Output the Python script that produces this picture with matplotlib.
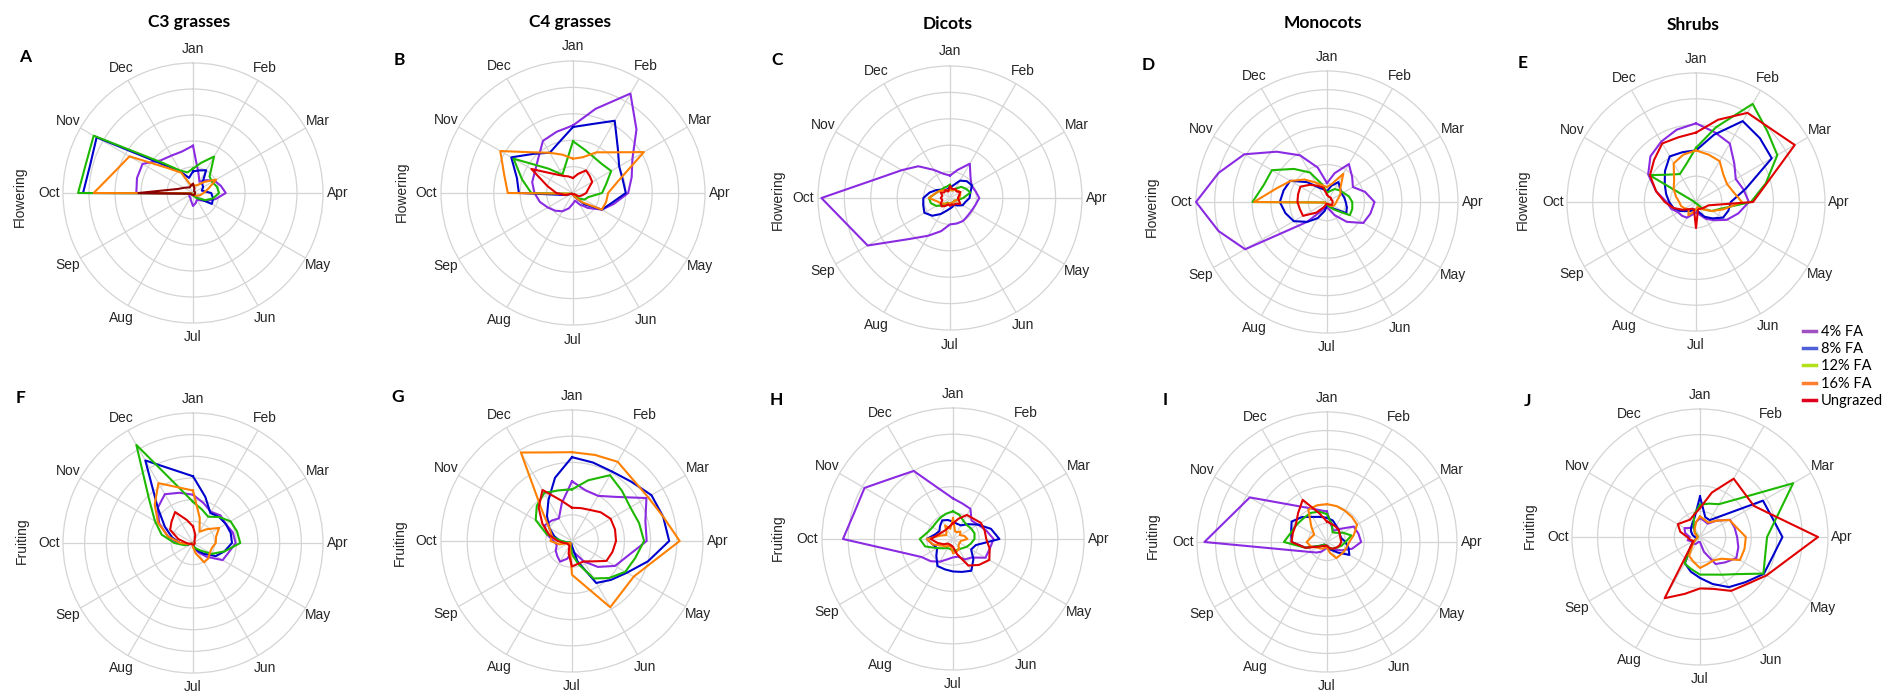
import numpy as np
import matplotlib
matplotlib.use("Agg")
import matplotlib.pyplot as plt
from matplotlib.lines import Line2D

# ---------------- data (24 semi-monthly points, Jan .. mid-Dec) ----------------
months = ['Jan', 'Feb', 'Mar', 'Apr', 'May', 'Jun', 'Jul', 'Aug', 'Sep', 'Oct', 'Nov', 'Dec']
treatments = ['4% FA', '8% FA', '12% FA', '16% FA', 'Ungrazed']
groups = ['C3 grasses', 'C4 grasses', 'Dicots', 'Monocots', 'Shrubs']
phases = ['Flowering', 'Fruiting']
ring_counts = [5, 5, 5, 7, 5, 6, 5, 5, 7, 5]

# A: C3 grasses, flowering
A_4 = [1.82, 0.8, 0.5, 0.7, 0.95, 1.1, 1.26, 0.9, 0.6, 0.4, 0.3, 0.4, 0.5, 0.3, 0.2, 0.2, 0.15, 0.1, 2.18, 2.23, 2.24, 1.77, 1.66, 1.65]
A_8 = [0.83, 0.9, 1.01, 0.5, 0.45, 0.35, 0.7, 0.8, 0.84, 0.3, 0.15, 0.05, 0.05, 0.05, 0.05, 0.05, 0.05, 0.05, 4.23, 4.1, 4.28, 1.5, 0.95, 0.6]
A_12 = [0.94, 1.2, 1.62, 0.9, 0.85, 0.95, 1.0, 0.8, 0.55, 0.3, 0.2, 0.1, 0.1, 0.05, 0.05, 0.05, 0.05, 0.05, 4.42, 4.27, 4.41, 1.63, 1.0, 0.82]
A_16 = [0.3, 0.3, 0.35, 0.6, 1.03, 0.6, 0.4, 0.3, 0.2, 0.15, 0.05, 0.05, 0.05, 0.05, 0.05, 0.05, 0.05, 0.05, 3.82, 3.13, 2.82, 1.35, 0.9, 0.3]
A_ug = [0.35, 0.2, 0.08, 0.08, 0.08, 0.08, 0.08, 0.08, 0.08, 0.08, 0.08, 0.08, 0.08, 0.08, 0.08, 0.08, 0.08, 0.1, 2.1, 0.6, 0.4, 0.3, 0.25, 0.3]
# B: C4 grasses, flowering
B_4 = [2.56, 3.3, 4.35, 3.4, 2.6, 2.3, 2.09, 1.6, 1.26, 0.8, 0.5, 0.3, 0.4, 0.6, 0.8, 0.95, 1.1, 1.3, 1.46, 1.6, 1.66, 1.86, 2.28, 2.4]
B_8 = [2.5, 2.7, 3.16, 2.4, 2.02, 1.95, 2.0, 1.5, 1.26, 0.6, 0.2, 0.1, 0.05, 0.05, 0.05, 0.05, 0.05, 0.3, 2.05, 2.2, 2.7, 2.1, 1.76, 2.0]
B_12 = [1.96, 1.7, 1.57, 1.55, 1.67, 1.3, 1.1, 0.6, 0.5, 0.3, 0.05, 0.05, 0.05, 0.05, 0.05, 0.05, 0.05, 0.1, 1.58, 2.0, 2.6, 1.3, 0.8, 1.1]
B_16 = [1.3, 1.4, 1.78, 2.18, 3.1, 1.78, 1.33, 1.3, 1.26, 0.5, 0.2, 0.1, 0.05, 0.05, 0.05, 0.05, 0.05, 0.1, 2.47, 2.7, 3.18, 2.18, 1.76, 1.5]
B_ug = [0.57, 0.75, 0.99, 0.9, 0.84, 0.6, 0.5, 0.35, 0.25, 0.05, 0.05, 0.05, 0.05, 0.05, 0.05, 0.05, 0.05, 0.3, 0.63, 1.0, 1.82, 1.02, 0.75, 0.65]
# C: Dicots, flowering
C_4 = [0.85, 1.1, 1.5, 1.1, 0.94, 1.0, 1.11, 1.0, 0.95, 0.95, 1.0, 1.0, 1.0, 1.3, 1.65, 2.2, 3.6, 4.0, 4.87, 2.84, 2.11, 1.7, 1.23, 0.95]
C_8 = [0.4, 0.5, 0.76, 0.9, 0.96, 0.8, 0.74, 0.6, 0.55, 0.4, 0.3, 0.35, 0.4, 0.5, 0.7, 0.95, 1.12, 1.05, 1.01, 0.8, 0.6, 0.45, 0.35, 0.35]
C_12 = [0.5, 0.3, 0.4, 0.6, 0.7, 0.8, 0.5, 0.3, 0.2, 0.2, 0.2, 0.2, 0.2, 0.2, 0.2, 0.4, 0.6, 0.75, 0.8, 0.6, 0.5, 0.45, 0.45, 0.45]
C_16 = [0.3, 0.3, 0.35, 0.4, 0.45, 0.4, 0.35, 0.3, 0.2, 0.2, 0.2, 0.2, 0.2, 0.2, 0.25, 0.3, 0.4, 0.5, 0.8, 0.6, 0.5, 0.4, 0.35, 0.3]
C_ug = [0.45, 0.35, 0.4, 0.35, 0.45, 0.35, 0.3, 0.35, 0.45, 0.3, 0.3, 0.25, 0.3, 0.25, 0.35, 0.45, 0.4, 0.3, 0.35, 0.3, 0.4, 0.3, 0.35, 0.25]
# D: Monocots, flowering
D_4 = [1.01, 1.6, 2.34, 1.9, 1.6, 2.1, 2.54, 2.4, 2.24, 1.5, 0.81, 0.4, 0.3, 0.3, 0.5, 1.5, 5.05, 6.0, 7.0, 6.0, 5.1, 3.8, 2.88, 1.9]
D_8 = [0.57, 0.9, 1.23, 1.0, 0.9, 0.95, 1.0, 1.1, 1.19, 0.5, 0.3, 0.2, 0.2, 0.5, 1.0, 1.5, 2.05, 2.3, 2.52, 2.4, 2.27, 1.5, 0.9, 0.7]
D_12 = [0.5, 0.6, 0.8, 0.9, 1.0, 1.2, 1.35, 1.4, 1.41, 0.6, 0.3, 0.2, 0.1, 0.1, 0.1, 0.1, 0.1, 0.1, 3.98, 3.5, 3.4, 2.5, 1.82, 0.96]
D_16 = [0.8, 1.0, 1.74, 1.0, 0.83, 0.6, 0.5, 0.45, 0.4, 0.3, 0.1, 0.1, 0.1, 0.1, 0.1, 0.1, 0.1, 0.1, 3.9, 2.8, 2.25, 1.7, 1.2, 0.92]
D_ug = [0.4, 0.3, 0.3, 0.3, 0.25, 0.3, 0.3, 0.3, 0.3, 0.2, 0.15, 0.1, 0.1, 0.1, 0.3, 0.8, 1.48, 1.5, 1.58, 1.6, 1.64, 1.3, 1.0, 0.8]
# E: Shrubs, flowering
E_4 = [3.05, 2.8, 2.62, 2.1, 1.78, 1.9, 2.05, 1.7, 1.38, 1.0, 0.75, 0.5, 0.4, 0.5, 0.7, 0.76, 0.8, 1.0, 1.14, 1.6, 2.14, 2.5, 2.7, 2.9]
E_8 = [2.0, 2.7, 3.62, 3.5, 3.39, 2.0, 1.35, 1.3, 1.21, 0.9, 0.66, 0.4, 0.3, 0.3, 0.4, 0.5, 0.7, 0.9, 1.04, 1.2, 1.4, 1.7, 2.04, 2.0]
E_12 = [2.1, 3.0, 4.39, 3.9, 3.64, 2.8, 2.13, 1.0, 0.7, 0.4, 0.1, 0.05, 0.05, 0.05, 0.05, 0.05, 0.05, 0.05, 0.05, 0.1, 2.08, 1.5, 1.25, 1.5]
E_16 = [2.0, 1.9, 1.83, 1.5, 1.39, 1.5, 1.78, 1.1, 0.7, 0.4, 0.3, 0.2, 0.3, 0.4, 0.59, 0.4, 0.5, 0.6, 0.65, 0.8, 1.0, 1.2, 1.73, 1.9]
E_ug = [2.69, 3.3, 3.99, 4.05, 4.42, 2.85, 2.21, 0.5, 0.4, 0.35, 0.3, 0.3, 1.01, 0.3, 0.3, 0.4, 0.6, 0.9, 1.21, 1.6, 2.06, 2.3, 2.62, 2.6]
# F: C3 grasses, fruiting
F_4 = [2.23, 1.9, 1.66, 1.8, 1.75, 1.9, 1.97, 1.7, 1.58, 0.9, 0.5, 0.2, 0.1, 0.05, 0.05, 0.05, 0.05, 0.3, 0.7, 1.2, 1.8, 2.3, 2.6, 2.4]
F_8 = [3.08, 2.2, 1.6, 1.7, 1.75, 1.8, 1.8, 1.5, 1.21, 0.7, 0.4, 0.2, 0.1, 0.05, 0.05, 0.05, 0.05, 0.3, 0.6, 1.0, 1.5, 2.3, 4.4, 3.5]
F_12 = [1.9, 1.6, 1.4, 1.7, 2.0, 2.1, 2.18, 1.5, 1.0, 0.5, 0.3, 0.2, 0.1, 0.05, 0.05, 0.05, 0.05, 0.4, 0.85, 1.5, 2.03, 2.87, 5.23, 2.7]
F_16 = [2.42, 1.2, 0.6, 0.9, 1.39, 1.1, 1.05, 0.9, 0.9, 1.0, 1.03, 0.5, 0.2, 0.05, 0.05, 0.05, 0.05, 0.2, 0.6, 1.2, 1.86, 2.5, 3.19, 2.66]
F_ug = [0.77, 0.4, 0.15, 0.08, 0.08, 0.08, 0.08, 0.08, 0.08, 0.08, 0.08, 0.08, 0.08, 0.08, 0.08, 0.08, 0.08, 0.15, 0.3, 0.7, 1.22, 1.4, 1.65, 1.1]
# G: C4 grasses, fruiting
G_4 = [2.28, 2.0, 1.99, 2.38, 3.28, 2.9, 2.85, 2.2, 1.9, 1.4, 0.9, 0.5, 0.4, 0.7, 0.91, 0.8, 0.72, 0.6, 0.7, 1.0, 1.2, 1.1, 1.0, 1.5]
G_8 = [3.2, 3.1, 3.06, 3.2, 3.5, 3.6, 3.71, 3.0, 2.42, 2.1, 1.85, 0.8, 0.2, 0.1, 0.1, 0.1, 0.1, 0.2, 0.45, 0.7, 1.0, 1.35, 1.8, 2.5]
G_12 = [1.97, 2.4, 2.9, 2.7, 2.57, 2.65, 2.75, 2.5, 2.35, 2.0, 1.65, 0.9, 0.5, 0.2, 0.1, 0.1, 0.1, 0.2, 0.4, 1.0, 1.6, 1.9, 2.12, 2.0]
G_16 = [3.39, 3.4, 3.49, 3.3, 3.35, 3.6, 4.11, 3.16, 2.72, 2.72, 2.92, 1.73, 1.29, 0.3, 0.1, 0.1, 0.15, 0.5, 0.82, 0.8, 1.0, 1.6, 3.9, 3.5]
G_ug = [1.27, 1.3, 1.37, 1.55, 1.7, 1.7, 1.68, 1.6, 1.52, 1.1, 0.9, 0.9, 0.97, 0.5, 0.2, 0.2, 0.2, 0.3, 0.55, 0.9, 1.3, 1.8, 2.25, 1.6]
# H: Dicots, fruiting
H_4 = [1.55, 1.4, 1.33, 1.0, 1.1, 1.3, 1.55, 1.45, 1.43, 1.0, 0.9, 0.7, 0.7, 0.8, 1.0, 1.2, 1.38, 2.0, 4.2, 3.9, 3.9, 3.28, 3.0, 1.97]
H_8 = [0.66, 0.6, 0.6, 0.8, 1.1, 1.5, 1.77, 0.9, 0.8, 1.1, 1.4, 1.3, 1.24, 1.2, 1.19, 0.9, 0.7, 0.8, 1.0, 0.7, 0.6, 0.7, 0.82, 0.75]
H_12 = [1.06, 0.95, 0.8, 0.75, 0.8, 0.85, 0.82, 0.7, 0.6, 0.5, 0.45, 0.45, 0.45, 0.4, 0.4, 0.5, 0.7, 1.1, 1.27, 1.0, 0.9, 0.9, 0.95, 1.0]
H_16 = [0.8, 0.3, 0.3, 0.4, 0.3, 0.45, 0.55, 0.3, 0.3, 0.3, 0.45, 0.5, 0.55, 0.3, 0.3, 0.4, 0.5, 0.8, 1.0, 0.5, 0.3, 0.35, 0.6, 0.4]
H_ug = [0.6, 0.8, 1.06, 1.1, 1.23, 1.25, 1.27, 1.45, 1.6, 1.4, 1.17, 0.6, 0.3, 0.25, 0.25, 0.25, 0.4, 0.6, 0.85, 0.6, 0.5, 0.45, 0.45, 0.5]
# I: Monocots, fruiting
I_4 = [1.64, 0.9, 0.7, 1.0, 1.66, 1.75, 1.84, 1.4, 0.9, 0.6, 0.5, 0.4, 0.3, 0.4, 0.6, 0.8, 1.07, 1.78, 6.6, 5.37, 4.8, 2.85, 2.13, 1.79]
I_8 = [1.3, 1.2, 1.0, 0.9, 0.8, 0.8, 1.0, 1.2, 1.39, 0.8, 0.5, 0.3, 0.2, 0.2, 0.2, 0.2, 0.4, 1.2, 1.9, 2.0, 2.2, 1.9, 1.56, 1.4]
I_12 = [1.5, 1.0, 0.6, 0.7, 1.0, 1.36, 1.0, 0.8, 0.6, 0.5, 0.4, 0.3, 0.2, 0.2, 0.2, 0.2, 0.4, 1.2, 2.32, 2.0, 1.88, 1.8, 1.8, 1.7]
I_16 = [2.04, 2.0, 1.94, 1.9, 1.87, 1.5, 1.2, 1.1, 1.05, 1.0, 1.0, 0.6, 0.3, 0.3, 0.4, 0.5, 0.6, 0.9, 1.1, 0.9, 0.8, 1.2, 2.01, 2.05]
I_ug = [1.1, 1.0, 0.95, 0.9, 0.8, 0.75, 0.77, 0.7, 0.6, 0.5, 0.4, 0.3, 0.2, 0.2, 0.25, 0.3, 0.5, 1.2, 1.91, 1.9, 1.93, 2.2, 2.62, 1.6]
# J: Shrubs, fruiting
J_4 = [0.74, 0.65, 0.6, 0.9, 1.35, 1.4, 1.45, 1.55, 1.64, 1.4, 1.22, 0.6, 0.2, 0.2, 0.3, 0.4, 0.35, 0.5, 0.4, 0.6, 0.7, 0.5, 0.45, 0.6]
J_8 = [1.58, 0.8, 0.76, 1.16, 2.84, 2.92, 3.22, 2.94, 2.88, 2.5, 2.26, 1.9, 1.6, 1.4, 1.18, 0.5, 0.2, 0.15, 0.2, 0.3, 0.4, 0.5, 0.6, 0.8]
J_12 = [1.26, 1.35, 1.48, 2.11, 4.2, 3.12, 2.62, 2.64, 2.86, 2.05, 1.7, 1.52, 1.47, 1.3, 1.2, 0.5, 0.2, 0.1, 0.1, 0.1, 0.15, 0.3, 0.5, 0.9]
J_16 = [0.8, 0.7, 0.65, 0.9, 1.33, 1.47, 1.79, 1.8, 1.8, 1.2, 1.05, 1.1, 1.21, 1.0, 0.85, 0.4, 0.2, 0.1, 0.1, 0.1, 0.2, 0.3, 0.4, 0.6]
J_ug = [1.13, 1.8, 2.63, 2.44, 2.43, 3.07, 4.61, 3.51, 3.0, 2.6, 2.43, 2.1, 2.01, 2.3, 2.76, 0.5, 0.3, 0.4, 0.5, 0.8, 1.0, 0.85, 0.78, 0.9]

panel_letters = ['A', 'B', 'C', 'D', 'E', 'F', 'G', 'H', 'I', 'J']
panel_series = [
    [A_4, A_8, A_12, A_16, A_ug], [B_4, B_8, B_12, B_16, B_ug],
    [C_4, C_8, C_12, C_16, C_ug], [D_4, D_8, D_12, D_16, D_ug],
    [E_4, E_8, E_12, E_16, E_ug], [F_4, F_8, F_12, F_16, F_ug],
    [G_4, G_8, G_12, G_16, G_ug], [H_4, H_8, H_12, H_16, H_ug],
    [I_4, I_8, I_12, I_16, I_ug], [J_4, J_8, J_12, J_16, J_ug],
]

# ---------------- styling / layout ----------------
W, H = 1886, 696
line_colors = ['#8A2BE2', '#0000CD', '#1DB800', '#FF8000', '#E00000']
legend_colors = ['#A050C0', '#4F5FD8', '#B4E01A', '#FF7F30', '#E0001B']
centers = [(193, 193), (573, 193), (950, 198), (1327, 202), (1696, 202),
           (193, 543), (572, 541), (953, 539), (1327, 542), (1700, 537)]
radii = [130, 132, 132, 131, 129, 130, 131, 131, 130, 128]
letter_pos = [(25, 57), (399, 60), (777, 60), (1148, 65), (1523, 63),
              (21, 398), (398, 397), (776, 400), (1165, 400), (1528, 401)]
ylab_pos = [(20, 197), (402, 192), (778, 200), (1152, 207), (1523, 200),
            (22, 541), (400, 543), (778, 538), (1153, 536), (1530, 526)]
title_pos = [(189, 22), (570, 22), (948, 24), (1323, 23), (1693, 25)]

fig = plt.figure(figsize=(W / 100, H / 100), dpi=100)
fig.patch.set_facecolor('white')

theta24 = np.deg2rad(np.arange(24) * 15.0)
theta_closed = np.append(theta24, theta24[0])
month_theta = np.deg2rad(np.arange(12) * 30.0)

for p in range(10):
    cx, cy = centers[p]
    R = radii[p]
    n = ring_counts[p]
    ax = fig.add_axes([(cx - R) / W, (H - cy - R) / H, 2 * R / W, 2 * R / H],
                      projection='polar')
    ax.set_theta_zero_location('N')
    ax.set_theta_direction(-1)
    ax.set_ylim(0, n)
    ax.set_yticks(np.arange(1, n))
    ax.set_yticklabels([])
    ax.set_xticks(month_theta)
    ax.set_xticklabels([])
    ax.grid(True, color='#D4D4D4', lw=0.9)
    ax.spines['polar'].set_color('#D4D4D4')
    ax.spines['polar'].set_linewidth(0.9)
    ax.tick_params(length=0)
    for i, m in enumerate(months):
        ax.text(month_theta[i], n * 1.11, m, ha='center', va='center',
                fontsize=10, color='#262626', family='Liberation Sans')
    for s, vals in enumerate(panel_series[p]):
        col = line_colors[s]
        if p == 0 and s == 4:
            col = '#8B0000'
        r = np.append(vals, vals[0])
        ax.plot(theta_closed, r, color=col, lw=1.5, clip_on=False, zorder=3 + s)

    lx, ly = letter_pos[p]
    fig.text(lx / W, 1 - ly / H, panel_letters[p], ha='center', va='center',
             fontsize=12.5, fontweight='bold', family='Lato', color='black')
    yx, yy = ylab_pos[p]
    fig.text(yx / W, 1 - yy / H, phases[p // 5], rotation=90, ha='center', va='center',
             fontsize=10, family='Liberation Sans', color='#262626')

for g, name in enumerate(groups):
    tx, ty = title_pos[g]
    fig.text(tx / W, 1 - ty / H, name, ha='center', va='center',
             fontsize=12.5, fontweight='bold', family='Lato', color='black')

handles = [Line2D([0], [0], color=c, lw=2.5) for c in legend_colors]
fig.legend(handles, treatments, loc='upper left',
           bbox_to_anchor=(1803 / W, 1 - 325 / H), frameon=False,
           prop={'family': 'Lato', 'size': 10.5}, handlelength=0.9,
           handletextpad=0.35, labelspacing=0.22, borderpad=0, borderaxespad=0)

fig.savefig('out.png', dpi=100, facecolor='white')
